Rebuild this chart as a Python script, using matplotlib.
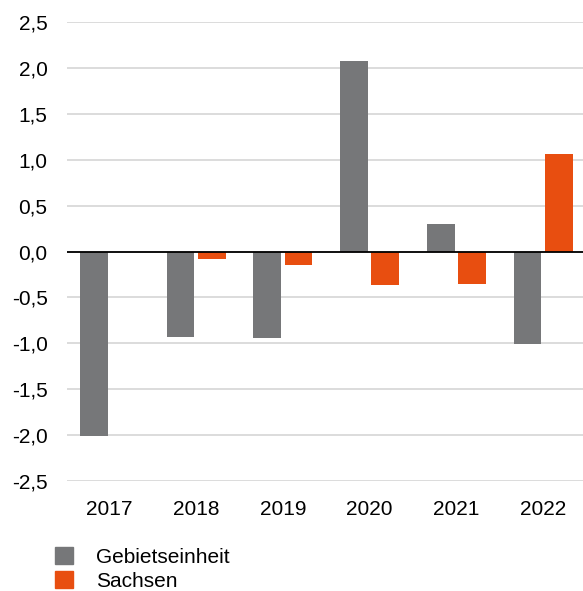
import numpy as np
import matplotlib.pyplot as plt
from matplotlib.patches import Patch

years = ['2017', '2018', '2019', '2020', '2021', '2022']
gebiet = [-2.01, -0.93, -0.94, 2.08, 0.30, -1.01]
sachsen = [-0.01, -0.08, -0.15, -0.37, -0.35, 1.06]

c_grey = '#767779'
c_orange = '#E84E10'

plt.rcParams['font.family'] = ['Liberation Sans', 'DejaVu Sans']
fs = 15

fig = plt.figure(figsize=(5.83, 5.91), dpi=100)
ax = fig.add_axes([67/583, 1 - 481/591, 1 - 67/583, (481 - 22)/591])

x = np.arange(len(years))
w = 0.32
ax.bar(x - 0.18, gebiet, w, color=c_grey, zorder=3)
ax.bar(x + 0.18, sachsen, w, color=c_orange, zorder=3)

ax.set_ylim(-2.5, 2.5)
ax.set_xlim(-0.49, 5.46)
ticks = np.arange(-2.5, 2.51, 0.5)
ax.set_yticks(ticks)
ax.set_yticklabels([f'{t:.1f}'.replace('.', ',') for t in ticks], fontsize=fs)
ax.set_xticks(x)
ax.set_xticklabels(years, fontsize=fs)
ax.tick_params(axis='both', length=0, colors='black')
ax.tick_params(axis='y', pad=14)
ax.tick_params(axis='x', pad=13.5)
ax.grid(axis='y', color='#d9d9d9', linewidth=1.3, zorder=0)
ax.axhline(0, color='black', linewidth=1.3, zorder=4)
for s in ax.spines.values():
    s.set_visible(False)

handles = [Patch(color=c_grey, label='Gebietseinheit'),
           Patch(color=c_orange, label='Sachsen')]
fig.legend(handles=handles, loc='upper left', bbox_to_anchor=(55/583, 1 - 547/591),
           frameon=False, fontsize=fs, handlelength=0.87, handleheight=0.87,
           handletextpad=1.1, labelspacing=0.22, borderpad=0, borderaxespad=0)

fig.savefig('out.png', dpi=100)
